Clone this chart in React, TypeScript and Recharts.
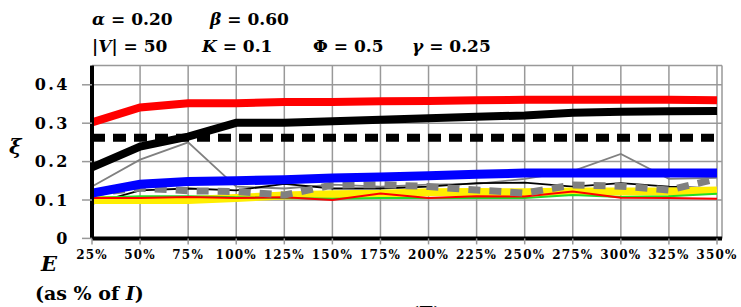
import React from 'react';
import { LineChart, Line, XAxis, YAxis, CartesianGrid } from 'recharts';

const categories = ['25%', '50%', '75%', '100%', '125%', '150%', '175%', '200%', '225%', '250%', '275%', '300%', '325%', '350%'];
const yTicks = [0, 0.1, 0.2, 0.3, 0.4];

const redThick = [0.302, 0.341, 0.352, 0.352, 0.355, 0.355, 0.357, 0.358, 0.36, 0.361, 0.361, 0.361, 0.361, 0.36];
const blackThick = [0.185, 0.239, 0.265, 0.301, 0.301, 0.305, 0.309, 0.313, 0.317, 0.32, 0.327, 0.33, 0.331, 0.332];
const blackDashed = [0.262, 0.262, 0.262, 0.262, 0.262, 0.262, 0.262, 0.262, 0.262, 0.262, 0.262, 0.262, 0.262, 0.262];
const grayThin = [0.135, 0.205, 0.25, 0.135, 0.13, 0.14, 0.135, 0.14, 0.142, 0.155, 0.175, 0.22, 0.155, 0.158];
const blackThin = [0.09, 0.125, 0.13, 0.125, 0.142, 0.13, 0.13, 0.135, 0.144, 0.145, 0.135, 0.144, 0.135, 0.13];
const blueThick = [0.118, 0.141, 0.148, 0.15, 0.153, 0.157, 0.16, 0.163, 0.167, 0.17, 0.17, 0.17, 0.17, 0.17];
const grayDotted = [0.118, 0.131, 0.124, 0.122, 0.113, 0.139, 0.14, 0.135, 0.126, 0.118, 0.139, 0.136, 0.126, 0.155];
const yellowThick = [0.1, 0.1, 0.1, 0.105, 0.112, 0.115, 0.116, 0.12, 0.121, 0.12, 0.122, 0.122, 0.122, 0.125];
const greenThin = [0.105, 0.11, 0.11, 0.107, 0.105, 0.103, 0.105, 0.105, 0.105, 0.105, 0.113, 0.108, 0.11, 0.116];
const redThin = [0.105, 0.105, 0.108, 0.105, 0.107, 0.1, 0.117, 0.105, 0.11, 0.109, 0.122, 0.106, 0.105, 0.103];

const data = categories.map((e, i) => ({
  e,
  redThick: redThick[i],
  blackThick: blackThick[i],
  blackDashed: blackDashed[i],
  grayThin: grayThin[i],
  blackThin: blackThin[i],
  blueThick: blueThick[i],
  grayDotted: grayDotted[i],
  yellowThick: yellowThick[i],
  greenThin: greenThin[i],
  redThin: redThin[i],
}));

const FONT = '"DejaVu Serif", serif';

export default function App() {
  return (
    <div style={{ position: 'fixed', left: 0, top: 0, width: 741, height: 307, background: '#fff', overflow: 'hidden' }}>
      <LineChart
        width={741}
        height={307}
        data={data}
        margin={{ top: 65.6, right: 19, bottom: 38.6, left: 0 }}
      >
        <CartesianGrid stroke="#999" strokeWidth={1.5} />
        <XAxis
          dataKey="e"
          interval={0}
          height={30}
          padding={{ left: 0, right: 5 }}
          axisLine={{ stroke: '#000', strokeWidth: 4 }}
          tickLine={{ stroke: '#999', strokeWidth: 1.5 }}
          tickSize={6}
          tickMargin={6}
          tick={{ fill: '#000', fontFamily: FONT, fontWeight: 'bold', fontSize: 12, letterSpacing: 1.2 }}
        />
        <YAxis
          width={92}
          domain={[0, 0.45]}
          ticks={yTicks}
          interval={0}
          tickFormatter={(v: number) => (v === 0 ? '0' : String(v))}
          axisLine={{ stroke: '#000', strokeWidth: 4 }}
          tickLine={{ stroke: '#999', strokeWidth: 1.5 }}
          tickSize={10}
          tickMargin={12}
          tick={{ fill: '#000', fontFamily: FONT, fontWeight: 'bold', fontSize: 16, letterSpacing: 2.5 }}
        />
        <Line dataKey="grayThin" stroke="#808080" strokeWidth={1.8} dot={false} isAnimationActive={false} />
        <Line dataKey="blackThin" stroke="#000" strokeWidth={1.8} dot={false} isAnimationActive={false} />
        <Line dataKey="yellowThick" stroke="#ffee00" strokeWidth={8} dot={false} isAnimationActive={false} />
        <Line dataKey="greenThin" stroke="#22dd22" strokeWidth={2} dot={false} isAnimationActive={false} />
        <Line dataKey="redThin" stroke="#ff0000" strokeWidth={2} dot={false} isAnimationActive={false} />
        <Line dataKey="grayDotted" stroke="#808080" strokeWidth={7} strokeDasharray="12 9" dot={false} isAnimationActive={false} />
        <Line dataKey="blueThick" stroke="#0000ff" strokeWidth={9} dot={false} isAnimationActive={false} />
        <Line dataKey="blackDashed" stroke="#000" strokeWidth={8} strokeDasharray="13 8" dot={false} isAnimationActive={false} />
        <Line dataKey="blackThick" stroke="#000" strokeWidth={8} dot={false} isAnimationActive={false} />
        <Line dataKey="redThick" stroke="#ff0000" strokeWidth={8} dot={false} isAnimationActive={false} />
      </LineChart>
      <svg
        width={741}
        height={307}
        style={{ position: 'absolute', left: 0, top: 0, pointerEvents: 'none', fontFamily: FONT, fontWeight: 'bold' }}
      >
        <text x={92} y={25} fontSize={17}>
          <tspan fontStyle="italic">α</tspan> = 0.20
        </text>
        <text x={210} y={25} fontSize={17}>
          <tspan fontStyle="italic">β</tspan> = 0.60
        </text>
        <text x={92} y={52} fontSize={17}>
          |<tspan fontStyle="italic">V</tspan>| = 50
        </text>
        <text x={202} y={52} fontSize={17}>
          <tspan fontStyle="italic">K</tspan> = 0.1
        </text>
        <text x={313} y={52} fontSize={17}>
          Φ = 0.5
        </text>
        <text x={412} y={52} fontSize={17}>
          <tspan fontStyle="italic">γ</tspan> = 0.25
        </text>
        <text x={9} y={154} fontSize={21} fontStyle="italic">
          ξ
        </text>
        <text x={41} y={271} fontSize={21} fontStyle="italic">
          E
        </text>
        <text x={35} y={300} fontSize={19}>
          (as % of <tspan fontStyle="italic">I</tspan>)
        </text>
        <text x={410} y={320} fontSize={19}>
          (E)
        </text>
      </svg>
    </div>
  );
}
